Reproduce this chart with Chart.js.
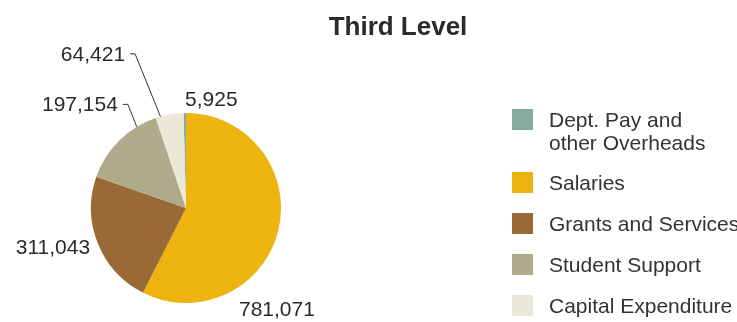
<!DOCTYPE html>
<html>
<head>
<meta charset="utf-8">
<script src="https://cdn.jsdelivr.net/npm/chart.js@4/dist/chart.umd.min.js"></script>
<style>
  html, body { margin: 0; padding: 0; background: #fff; }
  #wrap { position: relative; width: 737px; height: 322px; overflow: hidden; }
  #legend {
    position: absolute; left: 512px; top: 0;
    font-family: "Liberation Sans", Arial, sans-serif;
    font-size: 21px; line-height: 23px; color: #333;
  }
  .item { position: absolute; left: 0; white-space: pre; }
  .swatch { position: absolute; left: 0; top: 0; width: 21px; height: 21px; }
  .text { position: absolute; left: 37px; top: -1px; }
</style>
</head>
<body>
<div id="wrap">
  <canvas id="chart" width="737" height="322"></canvas>
  <div id="legend"></div>
</div>
<script>
  var categories = [
    'Dept. Pay and\nother Overheads',
    'Salaries',
    'Grants and Services',
    'Student Support',
    'Capital Expenditure'
  ];
  var values = [5925, 781071, 311043, 197154, 64421];
  var colors = ['#85aa9e', '#edb30e', '#9a6a36', '#aeaa8a', '#ebe8d7'];

  // where each value label sits: angle clockwise from 12 o'clock, distance in radii
  var labelLayout = [
    { angle: -0.5, dist: 1.15, align: 'left' },
    { angle: 138, dist: 1.43, align: 'center' },
    { angle: -112.1, dist: 1.09, align: 'right' },
    { angle: -33.2, dist: 1.31, align: 'right', leader: -31.2 },
    { angle: -21.5, dist: 1.75, align: 'right', leader: -15.6 }
  ];

  var FONT = '"Liberation Sans", Arial, sans-serif';

  var pieText = {
    id: 'pieText',
    afterDatasetsDraw: function (chart) {
      var ctx = chart.ctx;
      var arcs = chart.getDatasetMeta(0).data;
      var cx = arcs[0].x, cy = arcs[0].y, r = arcs[0].outerRadius;

      ctx.save();
      ctx.fillStyle = '#2a2a2a';
      ctx.textBaseline = 'alphabetic';

      ctx.font = 'bold 26px ' + FONT;
      ctx.textAlign = 'center';
      ctx.fillText('Third Level', 398, 35);

      ctx.font = '21px ' + FONT;
      ctx.strokeStyle = '#333';
      ctx.lineWidth = 1;
      for (var i = 0; i < labelLayout.length; i++) {
        var l = labelLayout[i];
        var a = l.angle * Math.PI / 180;
        var x = cx + Math.sin(a) * l.dist * r;
        var y = cy - Math.cos(a) * l.dist * r;
        ctx.textAlign = l.align;
        ctx.fillText(values[i].toLocaleString('en-US'), x, y + 7.5);

        if (l.leader !== undefined) {
          var e = l.leader * Math.PI / 180;
          ctx.beginPath();
          ctx.moveTo(x + 5, y + 0.5);
          ctx.lineTo(x + 10, y + 0.5);
          ctx.lineTo(cx + Math.sin(e) * r, cy - Math.cos(e) * r);
          ctx.stroke();
        }
      }
      ctx.restore();
    }
  };

  new Chart(document.getElementById('chart'), {
    type: 'pie',
    data: {
      labels: categories,
      datasets: [{
        data: values,
        backgroundColor: colors,
        borderWidth: 0,
        hoverOffset: 0
      }]
    },
    options: {
      responsive: false,
      animation: false,
      rotation: -1.5,
      layout: { padding: { left: 91, right: 456, top: 113, bottom: 19 } },
      plugins: {
        legend: { display: false },
        tooltip: { enabled: false }
      },
      events: []
    },
    plugins: [pieText]
  });

  // legend on the right
  var legendEl = document.getElementById('legend');
  var itemTop = 109;
  for (var i = 0; i < categories.length; i++) {
    var item = document.createElement('div');
    item.className = 'item';
    item.style.top = itemTop + 'px';

    var sw = document.createElement('div');
    sw.className = 'swatch';
    sw.style.background = colors[i];
    item.appendChild(sw);

    var txt = document.createElement('div');
    txt.className = 'text';
    txt.textContent = categories[i];
    item.appendChild(txt);

    legendEl.appendChild(item);
    itemTop += 41 + (categories[i].split('\n').length - 1) * 22;
  }
</script>
</body>
</html>
